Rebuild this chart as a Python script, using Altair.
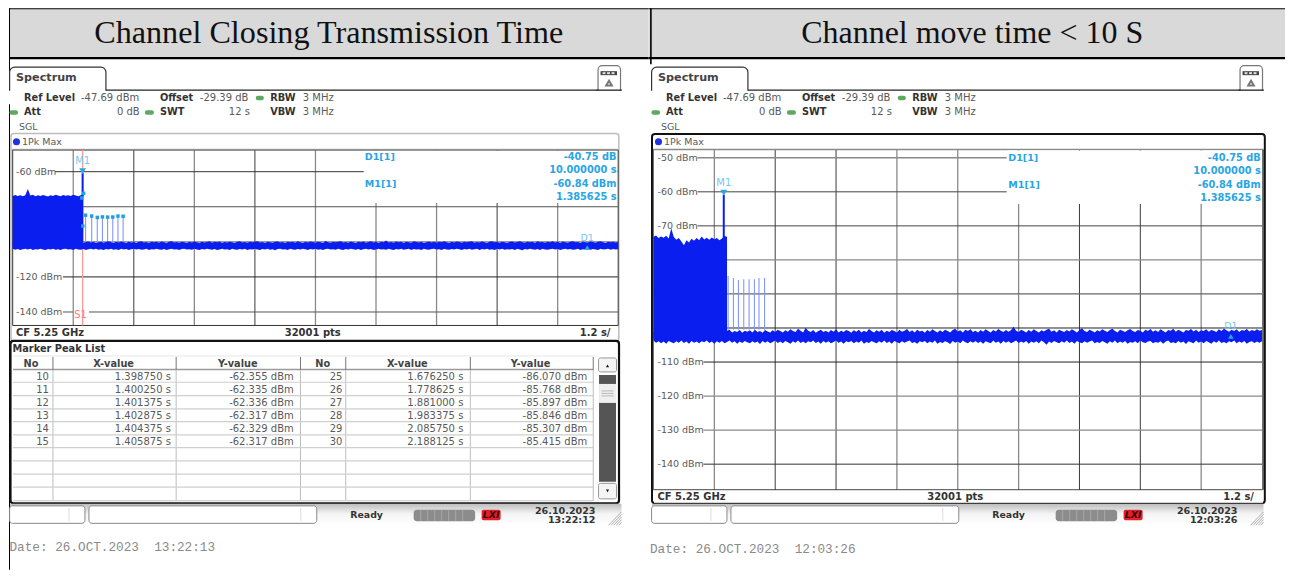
import altair as alt
import pandas as pd

# ---------- values ----------
titles = ["Channel Closing Transmission Time", "Channel move time < 10 S"]
dates = ["Date: 26.OCT.2023\u00a0\u00a013:22:13", "Date: 26.OCT.2023\u00a0\u00a012:03:26"]
stamps = [("26.10.2023", "13:22:12"), ("26.10.2023", "12:03:26")]

v_grid_dark_l = [2.4, 4.8, 9.6]
v_grid_gray_l = [1.2, 3.6, 6.0, 7.2, 8.4, 10.8]
v_grid_dark_r = [2.4, 3.6, 8.4, 9.6]
v_grid_gray_r = [1.2, 4.8, 6.0, 7.2, 10.8]

floor_hi_l = [
-100.4,-99.9,-100.6,-100.1,-100.5,-99.8,-100.3,-100.7,-100.0,-100.4,-99.9,-100.6,-100.2,-99.8,-100.5,-100.1,-100.6,-100.0,-100.4,-99.9,
-100.5,-100.1,-99.7,-100.4,-100.0,-100.6,-99.9,-100.3,-100.6,-100.1,-99.8,-100.4,-100.0,-100.7,-100.2,-99.9,-100.5,-100.1,-99.6,-100.3,
-100.6,-100.0,-100.4,-99.8,-100.2,-100.6,-99.9,-100.4,-100.1,-100.7,-100.0,-99.7,-100.4,-100.1,-100.6,-99.9,-100.3,-100.0,-100.5,-99.8,
-100.2,-100.6,-100.0,-99.6,-100.4,-100.1,-100.5,-99.9,-100.3,-100.7,-100.0,-100.4,-99.8,-100.2,-100.6,-99.9,-100.4,-100.1,-99.7,-100.5,
-100.0,-100.3,-99.8,-100.6,-100.1,-100.4,-99.9,-100.2,-100.6,-100.0,-99.7,-100.4,-100.1,-100.5,-99.9,-100.3,-100.0,-99.6,-100.4,-100.1,
-100.6,-99.9,-100.2,-100.5,-100.0,-99.8,-100.4,-100.1,-100.6,-99.9,-100.3,-100.0,-100.5,-99.7,-100.2,-100.6,-100.0,-100.4,-99.8,-100.1,
-100.5,-99.9,-100.3,-100.6,-99.5,-100.2,-100.5,-99.9,-100.3,-100.0,-99.7,-100.4,-100.1,-100.5,-99.8,-100.2,-100.6,-100.0,-100.3,-99.8,
-100.5,-100.1,-99.6,-100.4,-100.0,-100.6,-99.9,-100.2,-99.3,-100.4,-100.1,-100.5,-99.8,-100.3,-100.0,-100.6,-99.9,-100.2,-100.5,-99.7,
-100.1,-100.4,-99.9,-100.6,-100.2,-99.8,-100.4,-100.0,-100.5,-99.9,-100.2,-99.6,-100.3,-100.6,-100.0,-100.4,-99.8,-100.1,-100.5,-99.9,
-100.3,-100.0,-99.7,-100.5,-100.1,-100.4,-99.8,-100.2,-100.6,-100.0,-99.6,-100.3,-100.1,-100.5,-99.9,-100.2,-100.6,-100.0,-99.8,-100.4,
-100.1,-99.6,-100.3,-100.5,-99.9,-100.2,-100.0,-100.6,-99.7,-100.3,-100.1,-100.5,-99.9,-100.2,-99.7,-100.4,-100.0,-100.6,-99.8,-100.2,
-100.5,-100.0,-99.7,-100.3,-100.1,-100.6,-99.9,-100.2,-100.4,-99.8,-100.1,-100.5,-100.0,-99.7,-100.3,-100.6,-99.9,-100.2,-100.0,-100.4,
-100.1]
floor_lo_l = [
-104.0,-104.5,-104.1,-104.6,-104.2,-103.9,-104.4,-104.0,-104.6,-104.2,-104.4,-103.9,-104.3,-104.7,-104.1,-104.4,-104.0,-104.5,-104.2,-104.6,
-104.1,-103.9,-104.4,-104.2,-104.6,-104.0,-104.3,-104.5,-104.1,-104.7,-104.2,-103.9,-104.4,-104.0,-104.5,-104.2,-104.6,-104.1,-104.3,-103.9,
-104.5,-104.2,-104.6,-104.0,-104.4,-104.1,-104.7,-104.2,-103.9,-104.4,-104.1,-104.5,-104.3,-104.0,-104.6,-104.2,-104.4,-103.9,-104.3,-104.5,
-104.1,-104.7,-104.2,-104.0,-104.4,-104.2,-104.6,-104.1,-103.9,-104.4,-104.2,-104.5,-104.0,-104.3,-104.6,-104.1,-104.4,-103.9,-104.2,-104.5,
-104.1,-104.7,-104.3,-104.0,-104.4,-104.2,-104.6,-103.9,-104.3,-104.5,-104.1,-104.4,-104.0,-104.7,-104.2,-104.4,-103.9,-104.3,-104.6,-104.1,
-104.4,-104.0,-104.5,-104.2,-104.8,-104.1,-103.9,-104.4,-104.2,-104.6,-104.0,-104.3,-104.5,-104.1,-104.4,-103.9,-104.2,-104.6,-104.1,-104.4,
-104.0,-104.5,-104.2,-104.7,-104.1,-103.9,-104.4,-104.2,-104.5,-104.0,-104.3,-104.6,-104.1,-104.4,-103.9,-104.2,-104.5,-104.1,-104.7,-104.2,
-104.0,-104.4,-104.1,-104.6,-104.3,-103.9,-104.4,-104.2,-104.5,-104.0,-104.3,-104.6,-104.1,-104.4,-104.0,-104.5,-104.2,-103.9,-104.6,-104.1,
-104.4,-104.2,-104.7,-104.0,-104.3,-104.5,-104.1,-103.9,-104.4,-104.2,-104.6,-104.0,-104.3,-104.5,-104.1,-104.4,-103.9,-104.2,-104.6,-104.1,
-104.4,-104.0,-104.5,-104.2,-103.9,-104.7,-104.1,-104.4,-104.0,-104.5,-104.2,-104.6,-104.0,-104.3,-103.9,-104.5,-104.2,-104.4,-104.1,-104.6,
-104.0,-104.3,-104.8,-104.1,-104.4,-103.9,-104.2,-104.5,-104.1,-104.6,-104.0,-104.3,-104.5,-104.2,-103.9,-104.4,-104.1,-104.6,-104.2,-104.0,
-104.4,-104.1,-104.5,-104.3,-103.9,-104.6,-104.2,-104.4,-104.0,-104.5,-104.1,-104.3,-104.6,-104.0,-104.4,-104.2,-103.9,-104.5,-104.1,-104.4,
-104.2]
floor_hi_r = [
-101.2,-100.6,-101.4,-100.9,-101.3,-100.7,-101.1,-100.5,-101.4,-100.8,-101.2,-100.6,-101.3,-100.9,-100.5,-101.2,-100.8,-101.4,-100.7,-101.1,
-100.6,-101.3,-100.9,-101.4,-100.7,-101.2,-100.6,-101.0,-101.4,-100.8,-100.5,-101.3,-100.9,-101.2,-100.6,-101.4,-100.8,-101.1,-100.7,-101.3,
-100.5,-101.2,-100.9,-101.4,-100.6,-101.0,-101.3,-100.7,-101.2,-100.5,-100.9,-101.3,-100.7,-101.1,-100.4,-100.9,-101.2,-100.2,-100.8,-101.3,
-99.9,-100.8,-101.2,-100.6,-101.4,-100.9,-100.5,-101.2,-100.8,-101.3,-100.6,-101.1,-100.4,-101.3,-100.8,-101.2,-100.6,-100.9,-101.4,-100.7,
-101.1,-100.5,-101.3,-100.8,-101.2,-100.3,-100.9,-101.3,-100.7,-101.1,-100.5,-101.4,-100.8,-101.2,-100.6,-100.9,-101.3,-100.5,-101.1,-100.8,
-100.3,-101.2,-100.7,-101.3,-100.5,-101.0,-100.8,-101.4,-100.6,-101.1,-100.4,-100.9,-101.3,-100.7,-101.2,-100.5,-100.9,-101.3,-100.6,-100.2,
-101.0,-100.7,-101.3,-100.5,-100.9,-100.4,-101.2,-100.8,-101.3,-100.6,-101.1,-100.4,-100.9,-101.3,-100.6,-101.0,-100.3,-100.8,-101.2,-100.6,
-101.1,-100.7,-99.6,-100.8,-101.2,-100.5,-100.9,-101.3,-100.6,-101.1,-100.4,-100.9,-101.3,-100.7,-101.0,-100.5,-100.2,-101.1,-100.7,-101.3,
-100.5,-100.9,-101.2,-100.6,-101.0,-100.4,-100.8,-101.3,-100.6,-100.1,-100.9,-101.2,-100.5,-100.9,-101.3,-100.7,-101.0,-100.4,-100.8,-101.2,
-100.6,-100.2,-100.9,-101.3,-100.5,-100.8,-101.2,-100.7,-100.3,-100.9,-101.2,-100.6,-100.8,-101.3,-100.5,-100.9,-100.3,-101.1,-100.7,-101.2,
-100.4,-100.9,-101.3,-100.6,-100.8,-100.2,-101.1,-100.5,-100.9,-101.3,-100.6,-100.8,-100.3,-101.0,-100.5,-101.2,-100.7,-100.9,-100.4,-101.1,
-100.6,-100.8,-101.2,-100.4,-100.9,-100.2,-100.7,-101.1,-100.5,-100.9,-100.4,-101.2,-100.6,-100.8,-100.3,-101.0,-100.6,-100.9,-100.4,-100.8,
-100.6]
floor_lo_r = [
-103.7,-104.3,-103.9,-104.5,-104.0,-104.6,-103.8,-104.2,-104.5,-103.9,-104.3,-103.7,-104.4,-104.0,-104.6,-103.8,-104.3,-104.0,-104.5,-103.9,
-104.2,-103.7,-104.4,-104.0,-104.6,-103.9,-104.3,-103.8,-104.5,-104.1,-103.7,-104.3,-103.9,-104.6,-104.0,-104.4,-103.8,-104.2,-104.5,-103.9,
-104.3,-104.0,-104.7,-103.8,-104.3,-103.9,-104.5,-104.1,-103.7,-104.4,-104.0,-104.5,-103.8,-104.2,-104.6,-103.9,-104.3,-103.7,-104.4,-104.0,
-104.5,-103.9,-104.2,-103.7,-104.4,-104.0,-104.6,-103.8,-104.3,-103.9,-104.5,-104.1,-103.7,-104.3,-104.0,-104.6,-103.9,-104.2,-103.8,-104.5,
-104.0,-104.3,-103.7,-104.6,-104.1,-104.4,-103.8,-104.2,-104.5,-103.9,-104.3,-103.7,-104.4,-104.0,-104.6,-103.8,-104.2,-104.5,-103.9,-104.3,
-104.0,-103.7,-104.4,-104.1,-104.6,-103.9,-104.2,-103.8,-104.5,-104.0,-104.3,-103.7,-104.6,-104.1,-104.4,-103.9,-104.2,-104.7,-103.8,-104.3,
-104.0,-104.5,-103.7,-104.2,-104.5,-103.9,-104.3,-103.8,-104.4,-104.0,-104.6,-103.9,-104.2,-104.5,-103.7,-104.3,-104.0,-104.6,-103.8,-104.3,
-103.9,-104.5,-104.1,-103.7,-104.4,-104.0,-104.3,-103.8,-104.6,-104.0,-104.3,-103.9,-104.5,-103.7,-104.2,-104.9,-104.0,-104.4,-103.8,-104.2,
-104.5,-103.9,-104.3,-103.7,-104.4,-104.0,-104.6,-103.8,-104.2,-104.5,-103.9,-104.3,-104.0,-103.7,-104.5,-104.1,-104.4,-103.8,-104.2,-104.6,
-103.9,-104.3,-103.7,-104.5,-104.0,-104.3,-103.8,-104.6,-104.1,-104.3,-103.9,-104.5,-103.7,-104.2,-104.4,-104.0,-103.8,-104.5,-104.1,-104.3,
-103.9,-104.6,-104.0,-103.7,-104.4,-104.2,-104.5,-103.8,-104.3,-104.0,-104.7,-103.9,-104.2,-104.5,-103.7,-104.3,-104.0,-104.5,-103.8,-104.2,
-104.6,-103.9,-104.3,-103.7,-104.4,-104.1,-104.5,-103.9,-104.2,-103.7,-104.5,-104.0,-104.3,-103.8,-104.6,-104.1,-103.9,-104.4,-104.0,-104.3,
-103.9]

block_hi_l = [-73.9,-73.3,-73.8,-73.5,-74.0,-73.4,-69.9,-73.6,-73.2,-74.0,-73.5,-73.9,-73.3,-73.7,-74.1,
-73.4,-73.8,-73.2,-73.6,-74.0,-73.3,-73.7,-73.5,-73.9,-73.2,-73.6,-74.0,-73.4,-73.0]
block_hi_r = [-73.2,-72.8,-73.6,-73.1,-73.5,-72.9,-73.7,-70.7,-73.3,-74.1,-73.6,-74.6,-75.7,-74.2,-74.9,
-73.8,-74.4,-73.6,-74.2,-73.1,-74.0,-73.5,-74.1,-73.4,-73.9,-73.6,-74.2,-73.7,-73.0,-73.2]

pulse_t_l = [1.445, 1.565, 1.67625, 1.778625, 1.881, 1.983375, 2.08575, 2.188125]
pulse_db_l = [-84.8, -85.3, -86.07, -85.768, -85.897, -85.846, -85.307, -85.415]
pulse_t_r = [1.472, 1.576, 1.675, 1.78, 1.885, 1.99, 2.08, 2.19]
pulse_db_r = [-84.7, -85.3, -85.9, -85.7, -85.7, -85.7, -85.3, -85.3]
extra_peak_t = [1.37, 1.405, 1.39]
extra_peak_db = [-75.0, -72.3, -91.0]

marker_t = 1.385625
marker_db = -60.84
delta_t = 10.0
delta_db = -40.75

tbl_no1 = ["10", "11", "12", "13", "14", "15"]
tbl_x1 = ["1.398750 s", "1.400250 s", "1.401375 s", "1.402875 s", "1.404375 s", "1.405875 s"]
tbl_y1 = ["-62.355 dBm", "-62.335 dBm", "-62.336 dBm", "-62.317 dBm", "-62.329 dBm", "-62.317 dBm"]
tbl_no2 = ["25", "26", "27", "28", "29", "30"]
tbl_x2 = ["1.676250 s", "1.778625 s", "1.881000 s", "1.983375 s", "2.085750 s", "2.188125 s"]
tbl_y2 = ["-86.070 dBm", "-85.768 dBm", "-85.897 dBm", "-85.846 dBm", "-85.307 dBm", "-85.415 dBm"]

# ---------- styles ----------
BLUE = "#0a1ef0"
CYAN = "#29a5e3"
CYAN_L = "#79c6ee"
TXT = "#595959"
BOLD = "#333333"
SANS = "DejaVu Sans"
ONE = pd.DataFrame({"a": [0]})
OY = 8


def panel(ox):
    L = []

    def rect(x0, y0, x1, y1, fill="white", stroke=None, sw=1.0, r=0, fo=1.0):
        kw = {"fill": fill, "fillOpacity": fo}
        if stroke:
            kw.update(stroke=stroke, strokeWidth=sw)
        if r:
            kw["cornerRadius"] = r
        L.append(alt.Chart(ONE).mark_rect(**kw).encode(
            x=alt.value(x0 - ox), x2=alt.value(x1 - ox), y=alt.value(y0 - OY), y2=alt.value(y1 - OY)))

    def line(x0, y0, x1, y1, color="#000000", sw=1.0):
        L.append(alt.Chart(ONE).mark_rule(color=color, strokeWidth=sw).encode(
            x=alt.value(x0 - ox), x2=alt.value(x1 - ox), y=alt.value(y0 - OY), y2=alt.value(y1 - OY)))

    def text(x, y, s, size=10, bold=False, color=TXT, align="left", font=SANS, italic=False):
        kw = dict(text=s, align=align, baseline="middle", font=font, fontSize=size, color=color)
        if bold:
            kw["fontWeight"] = "bold"
        if italic:
            kw["fontStyle"] = "italic"
        L.append(alt.Chart(ONE).mark_text(**kw).encode(x=alt.value(x - ox), y=alt.value(y - OY)))

    def glyph(x, y, shape, size, color, filled=True):
        L.append(alt.Chart(ONE).mark_point(shape=shape, size=size, color=color, filled=filled, opacity=1).encode(
            x=alt.value(x - ox), y=alt.value(y - OY)))

    return L, rect, line, text, glyph


def header(dx, rect, line, text, glyph):
    rect(8.6 + dx, 67, 105 + dx, 100, fill="white", stroke="#333333", sw=1.2, r=5)
    rect(8 + dx, 90.6, 110 + dx, 104, fill="white")
    line(105 + dx, 90, 621 + dx, 90, "#222222", 1.3)
    text(15 + dx, 78, "Spectrum", 11.2, True, "#444444")
    rect(597.5 + dx, 65.5, 620 + dx, 95, fill="white", stroke="#777777", sw=1.2, r=4)
    rect(596 + dx, 90.7, 622 + dx, 97, fill="white")
    rect(600 + dx, 71, 616.5 + dx, 75, fill="#444444")
    for k in range(3):
        rect(602 + k * 4.5 + dx, 72, 605 + k * 4.5 + dx, 74, fill="#dddddd")
    glyph(608.5 + dx, 83, "triangle-up", 32, "#777777", False)
    line(596 + dx, 90, 621 + dx, 90, "#222222", 1.3)
    y1, y2 = 97.7, 112.3
    text(23 + dx, y1, "Ref Level", 9.8, True, BOLD)
    text(80 + dx, y1, "-47.69 dBm")
    text(159 + dx, y1, "Offset", 9.8, True, BOLD)
    text(199 + dx, y1, "-29.39 dB")
    rect(255 + dx, 95.5, 263 + dx, 100, fill="#5fa85f", r=2)
    text(269.5 + dx, y1, "RBW", 9.8, True, BOLD)
    text(302 + dx, y1, "3 MHz")
    rect(8.5 + dx, 110, 17 + dx, 114.5, fill="#5fa85f", r=2)
    text(23 + dx, y2, "Att", 9.8, True, BOLD)
    text(116 + dx, y2, "0 dB")
    rect(144 + dx, 110, 153 + dx, 114.5, fill="#5fa85f", r=2)
    text(159 + dx, y2, "SWT", 9.8, True, BOLD)
    text(228 + dx, y2, "12 s")
    text(269.5 + dx, y2, "VBW", 9.8, True, BOLD)
    text(302 + dx, y2, "3 MHz")
    text(18 + dx, 127, "SGL", 9.5)


def status(dx, rect, line, text, glyph, stamp):
    grad = alt.Gradient(gradient="linear", x1=0, x2=0, y1=0, y2=1,
                        stops=[alt.GradientStop(color="#bdbdbd", offset=0),
                               alt.GradientStop(color="#f4f4f4", offset=0.45),
                               alt.GradientStop(color="#ffffff", offset=1)])
    rect(9 + dx, 504, 621 + dx, 526, fill=grad)
    rect(8.6 + dx, 506, 84 + dx, 523.5, fill="white", stroke="#888888", sw=1, r=3)
    rect(88 + dx, 506, 316 + dx, 523.5, fill="white", stroke="#888888", sw=1, r=3)
    line(68 + dx, 508, 68 + dx, 521, "#dddddd", 1)
    line(300 + dx, 508, 300 + dx, 521, "#dddddd", 1)
    text(349.5 + dx, 515, "Ready", 9.4, True, "#333333")
    rect(413 + dx, 510, 474.5 + dx, 521.5, fill="#8c8c8c", r=3)
    for s in range(7):
        line(420 + s * 7 + dx, 510.5, 420 + s * 7 + dx, 521, "#a8a8a8", 1)
    rect(481 + dx, 510, 500 + dx, 520.5, fill="#e0202c", r=2)
    text(490.5 + dx, 515.5, "LXI", 9.5, True, "#400000", "center", italic=True)
    text(595 + dx, 511, stamp[0], 9.6, True, "#333333", "right")
    text(595 + dx, 520.5, stamp[1], 9.6, True, "#333333", "right")
    for k in range(5):
        line(608 + k * 2.6 + dx, 525.5, 621 + dx, 512 + k * 2.6, "#9a9a9a", 0.8)


def spectrum(L, x_rng, y_rng, grid_groups, v_dark, v_gray, top, bot):
    xs = alt.Scale(domain=[0, 12], range=x_rng, nice=False, zero=False)
    ys = alt.Scale(domain=[-147.69, -47.69], range=y_rng, nice=False, zero=False)
    X = lambda f: alt.X(f, type="quantitative", scale=xs, axis=None)
    Y = lambda f: alt.Y(f, type="quantitative", scale=ys, axis=None)
    for vals, col, sw in ((v_gray, "#8a8a8a", 1.3), (v_dark, "#3a3a3a", 1.0)):
        L.append(alt.Chart(pd.DataFrame({"t": vals})).mark_rule(color=col, strokeWidth=sw).encode(
            x=X("t"), y=alt.value(top), y2=alt.value(bot)))
    for vals, start, end, col, sw in grid_groups:
        L.append(alt.Chart(pd.DataFrame({"d": vals})).mark_rule(color=col, strokeWidth=sw).encode(
            y=Y("d"), x=alt.value(start), x2=alt.value(end)))
    return X, Y


def traces(L, X, Y, fl_hi, fl_lo, blk, pulse_t, pulse_db):
    n = min(len(fl_hi), len(fl_lo))
    floor = pd.DataFrame({"t": [i * 12 / (n - 1) for i in range(n)], "hi": fl_hi[:n], "lo": fl_lo[:n]})
    block = pd.DataFrame({"t": [i * 0.05 for i in range(len(blk))], "hi": blk})
    block["lo"] = -103.0
    L.append(alt.Chart(pd.DataFrame({"t": pulse_t, "db": pulse_db, "base": [-100.5] * len(pulse_t)}))
             .mark_rule(color="#8496f7", strokeWidth=1.1).encode(x=X("t"), y=Y("db"), y2=alt.Y2("base")))
    L.append(alt.Chart(floor).mark_area(color=BLUE, opacity=1, line=False).encode(x=X("t"), y=Y("hi"), y2=alt.Y2("lo")))
    L.append(alt.Chart(block).mark_area(color=BLUE, opacity=1, line=False).encode(x=X("t"), y=Y("hi"), y2=alt.Y2("lo")))


def markers(L, X, Y):
    m = pd.DataFrame({"t": [marker_t], "db": [marker_db], "base": [-74.0]})
    L.append(alt.Chart(m).mark_rule(color=BLUE, strokeWidth=2).encode(x=X("t"), y=Y("db"), y2=alt.Y2("base")))
    L.append(alt.Chart(m).mark_point(shape="triangle-down", filled=True, size=45, color=CYAN, opacity=1, yOffset=-2).encode(x=X("t"), y=Y("db")))
    L.append(alt.Chart(m).mark_text(text="M1", color=CYAN_L, font=SANS, fontSize=10, dy=-12).encode(x=X("t"), y=Y("db")))
    d = pd.DataFrame({"t": [marker_t + delta_t], "db": [marker_db + delta_db]})
    L.append(alt.Chart(d).mark_point(shape="triangle-up", filled=True, size=32, color=CYAN, opacity=1, yOffset=3).encode(x=X("t"), y=Y("db")))
    L.append(alt.Chart(d).mark_text(text="D1", color=CYAN_L, font=SANS, fontSize=9.5, dy=-7).encode(x=X("t"), y=Y("db")))


def readout(text, x_l, x_r, ys):
    text(x_l, ys[0], "D1[1]", 9.6, True, CYAN)
    text(x_r, ys[0], "-40.75 dB", 9.8, True, CYAN, "right")
    text(x_r, ys[1], "10.000000 s", 9.8, True, CYAN, "right")
    text(x_l, ys[2], "M1[1]", 9.6, True, CYAN)
    text(x_r, ys[2], "-60.84 dBm", 9.8, True, CYAN, "right")
    text(x_r, ys[3], "1.385625 s", 9.8, True, CYAN, "right")


# ================= LEFT =================
OL, OR, END = 8, 648, 1285
L, rect, line, text, glyph = panel(OL)
rect(8.6, 8.8, 648, 56.7, fill="#d9d9d9")
rect(8, 8, 648, 9, fill="#000000")
rect(8, 56.7, 648, 59, fill="#000000")
rect(8, 8, 9, 570, fill="#000000")
text(328, 33, titles[0], 32.2, False, "#111111", "center", "Liberation Serif")
header(0, rect, line, text, glyph)
rect(10, 133.5, 618.3, 341, fill="white", stroke="#bdbdbd", sw=1.5, r=3)
line(10.5, 149.5, 618, 149.5, "#bdbdbd", 1.5)
glyph(15.5, 141.7, "circle", 50, "#1c33e0")
text(21, 141.7, "1Pk Max", 9.5)

top_l, bot_l = 150 - OY, 325.5 - OY
X, Y = spectrum(L, [11.7 - OL, 617.7 - OL], [325.5 - OY, 150 - OY],
                [([-60], 54 - OL, 617.7 - OL, "#333333", 1.0),
                 ([-80], 11.7 - OL, 617.7 - OL, "#555555", 1.2),
                 ([-100], 11.7 - OL, 617.7 - OL, "#777777", 1.2),
                 ([-120], 62 - OL, 617.7 - OL, "#222222", 1.0),
                 ([-140], 62 - OL, 72 - OL, "#555555", 1.0),
                 ([-140], 88 - OL, 617.7 - OL, "#555555", 1.0)],
                v_grid_dark_l, v_grid_gray_l, top_l, bot_l)
rect(363, 150.5, 617, 203, fill="white")
line(11.7, 150, 617.7, 150, "#555555", 1)
line(11.7, 150, 11.7, 325.5, "#333333", 1)
line(617.7, 150, 617.7, 325.5, "#555555", 1.2)
line(11.7, 325.5, 617.7, 325.5, "#333333", 1)
L.append(alt.Chart(pd.DataFrame({"t": [marker_t]})).mark_rule(color="#ff9a9a", strokeWidth=1.3).encode(
    x=X("t"), y=alt.value(top_l), y2=alt.value(bot_l)))
traces(L, X, Y, floor_hi_l, floor_lo_l, block_hi_l, pulse_t_l, pulse_db_l)
markers(L, X, Y)
pk = pd.DataFrame({"t": pulse_t_l + extra_peak_t, "db": pulse_db_l + extra_peak_db})
L.append(alt.Chart(pk).mark_point(shape="square", filled=True, size=12, color="#1f9fe0", opacity=1).encode(x=X("t"), y=Y("db")))
text(79.5, 314.7, "S1", 9.8, False, "#ff7a7a", "center")
text(15, 171.7, "-60 dBm", 9.5)
text(15, 277.3, "-120 dBm", 9.5)
text(15, 312, "-140 dBm", 9.5)
readout(text, 364, 616, [157, 169.7, 183.7, 197])
rect(11, 326.3, 617, 339.5, fill="white")
text(15, 333, "CF 5.25 GHz", 10, True, BOLD)
text(312, 333, "32001 pts", 10, True, BOLD, "center")
text(610, 333, "1.2 s/", 10, True, BOLD, "right")

rect(9.5, 341, 618.5, 503.5, fill="white", stroke="#111111", sw=2.2, r=3)
text(11.5, 349, "Marker Peak List", 9.8, True, BOLD)
line(12, 356, 597, 356, "#e8e8e8", 1)
line(12, 369.5, 592.7, 369.5, "#9a9a9a", 1.5)
for c in [52, 175.3, 299.7, 345, 469.7, 592.7]:
    line(c, 357, c, 370, "#777777", 1)
    line(c, 370, c, 501, "#bdbdbd", 1)
for yy in [382.3, 395.7, 409, 421.7, 435, 447.7, 461, 474.3, 487.3, 500.7]:
    line(12, yy, 592.7, yy, "#cfcfcf", 1.2)
for cx, s in [(30, "No"), (112.7, "X-value"), (237, "Y-value"), (322, "No"), (406.7, "X-value"), (530, "Y-value")]:
    text(cx, 364, s, 9.8, True, "#444444", "center")
rows = [376.7, 389.7, 403, 416, 429, 442]
for i, yy in enumerate(rows):
    text(48, yy, tbl_no1[i], 10, align="right")
    text(170, yy, tbl_x1[i], 10, align="right")
    text(293, yy, tbl_y1[i], 10, align="right")
    text(341.7, yy, tbl_no2[i], 10, align="right")
    text(462.7, yy, tbl_x2[i], 10, align="right")
    text(586.7, yy, tbl_y2[i], 10, align="right")
rect(598, 358, 616, 372, fill="#f5f5f5", stroke="#999999", sw=1, r=2)
glyph(607, 366, "triangle-up", 10, "#111111")
rect(598.5, 375, 615.5, 482, fill="#555555")
rect(598.5, 384, 615.5, 403, fill="#f0f0f0")
for yy in [391, 393.5, 396]:
    line(601, yy, 613, yy, "#aaaaaa", 0.8)
rect(598, 483.5, 616, 499, fill="#f5f5f5", stroke="#999999", sw=1, r=2)
glyph(607, 491, "triangle-down", 10, "#111111")
status(0, rect, line, text, glyph, stamps[0])
text(8.5, 547, dates[0], 12.7, False, "#8a8a8a", "left", "Liberation Mono")
left = alt.layer(*L).properties(width=OR - OL, height=562)

# ================= RIGHT =================
L, rect, line, text, glyph = panel(OR)
rect(648, 8.8, END, 56.7, fill="#d9d9d9")
rect(648, 8, END, 9, fill="#000000")
rect(648, 56.7, END, 59, fill="#000000")
rect(649.6, 8, 651.2, 64, fill="#000000")
text(972, 33, titles[1], 32, False, "#111111", "center", "Liberation Serif")
header(642.5, rect, line, text, glyph)
rect(651.5, 134, 1264.8, 503.5, fill="white", stroke="#111111", sw=2, r=3)
line(652.5, 149.5, 1264, 149.5, "#8a8a8a", 1.5)
glyph(658, 141.7, "circle", 50, "#1c33e0")
text(663.5, 141.7, "1Pk Max", 9.5)

top_r, bot_r = 150 - OY, 490 - OY
X, Y = spectrum(L, [653 - OR, 1262 - OR], [490.5 - OY, 149.8 - OY],
                [([-50], 697 - OR, 1262 - OR, "#8a8a8a", 1.4),
                 ([-60], 697 - OR, 1262 - OR, "#444444", 1.0),
                 ([-70], 697 - OR, 1262 - OR, "#444444", 1.0),
                 ([-80], 653 - OR, 1262 - OR, "#8a8a8a", 1.3),
                 ([-90], 653 - OR, 1262 - OR, "#666666", 1.2),
                 ([-100], 653 - OR, 1262 - OR, "#222222", 1.0),
                 ([-110], 703 - OR, 1262 - OR, "#222222", 1.0),
                 ([-120], 703 - OR, 1262 - OR, "#8a8a8a", 1.3),
                 ([-130], 703 - OR, 1262 - OR, "#8a8a8a", 1.3),
                 ([-140], 703 - OR, 1262 - OR, "#333333", 1.0)],
                v_grid_dark_r, v_grid_gray_r, top_r, bot_r)
rect(1006.5, 150.5, 1262, 204, fill="white")
line(653, 490, 1262.5, 490, "#222222", 1)
line(1263, 150, 1263, 490, "#111111", 1.2)
line(652.7, 150, 652.7, 490, "#333333", 1)
traces(L, X, Y, floor_hi_r, floor_lo_r, block_hi_r, pulse_t_r, pulse_db_r)
markers(L, X, Y)
text(657, 157.7, "-50 dBm", 9.5)
text(657, 191.7, "-60 dBm", 9.5)
text(657, 225.7, "-70 dBm", 9.5)
text(657, 362.3, "-110 dBm", 9.5)
text(657, 396.3, "-120 dBm", 9.5)
text(657, 430.3, "-130 dBm", 9.5)
text(657, 464.3, "-140 dBm", 9.5)
readout(text, 1008, 1260.7, [158, 171, 185, 198])
rect(653.5, 490.6, 1263, 503, fill="white")
text(657, 497, "CF 5.25 GHz", 10, True, BOLD)
text(955, 497, "32001 pts", 10, True, BOLD, "center")
text(1254, 497, "1.2 s/", 10, True, BOLD, "right")
status(642.5, rect, line, text, glyph, stamps[1])
text(649.5, 549, dates[1], 12.7, False, "#8a8a8a", "left", "Liberation Mono")
right = alt.layer(*L).properties(width=END - OR, height=562)

chart = (alt.hconcat(left, right, spacing=0)
         .properties(padding=0, background="white")
         .configure_view(strokeWidth=0))
chart.save("out.html", embed_options={"renderer": "svg", "actions": False})
